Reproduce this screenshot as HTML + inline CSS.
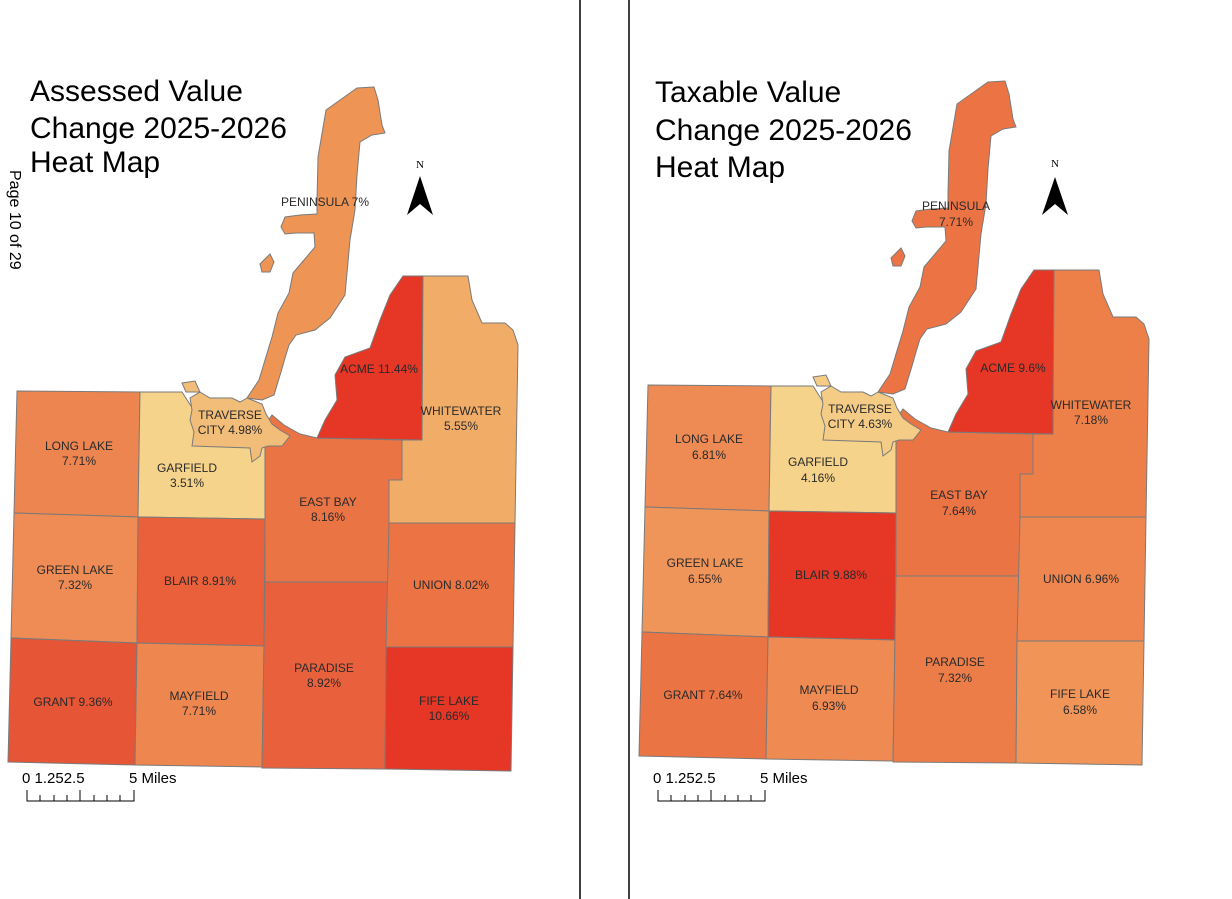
<!DOCTYPE html>
<html><head><meta charset="utf-8"><style>
html,body{margin:0;padding:0;background:#fff;}
svg{display:block;font-family:"Liberation Sans",sans-serif;}
.l{font-size:12px;fill:#2a2a2a;text-anchor:middle;}
.t{font-size:30px;fill:#000;}
</style></head><body>
<svg width="1232" height="899" viewBox="0 0 1232 899" xmlns="http://www.w3.org/2000/svg">
<rect width="1232" height="899" fill="#fff"/>
<line x1="580" y1="0" x2="580" y2="899" stroke="#000" stroke-width="1.5"/>
<line x1="629" y1="0" x2="629" y2="899" stroke="#000" stroke-width="1.5"/>
<text transform="translate(10,170) rotate(90)" font-size="16" fill="#000">Page 10 of 29</text>

<!-- LEFT MAP -->
<g stroke="#7a7a7a" stroke-width="1">
<polygon fill="#ee9555" points="357,88 374,87 378,100 382,125 385,133 372,135 360,142 357,175 355,210 350,240 348,262 345,295 330,318 315,330 296,335 289,345 285,358 281,372 274,395 262,400 247,398 259,380 265,360 272,337 278,313 289,293 293,273 304,260 315,247 314,233 296,233 285,234 281,227 285,217 300,215 317,214 317,200 318,157 326,110"/>
<polygon fill="#ee9555" points="260,264 270,254 274,262 270,272 262,272"/>
<polygon fill="#ec8550" points="17,391 140,392 138,517 14,513"/>
<polygon fill="#f6d38b" points="140,392 182,392 200,420 265,425 265,519 138,517"/>
<polygon fill="#ef8c55" points="14,513 138,517 137,643 11,638"/>
<polygon fill="#e9603a" points="138,517 265,519 264,646 137,643"/>
<polygon fill="#e65535" points="11,638 137,643 135,765 8,762"/>
<polygon fill="#ee8650" points="137,643 264,646 262,767 135,765"/>
<polygon fill="#eb7445" points="265,425 272,415 284,425 300,434 317,438 402,440 402,480 389,480 389,582 265,582"/>
<polygon fill="#e9603c" points="265,582 389,582 386,647 385,769 262,768"/>
<polygon fill="#ec7444" points="389,523 515,523 513,647 386,647"/>
<polygon fill="#e53626" points="386,647 513,647 511,771 385,769"/>
<polygon fill="#e53626" points="403,276 423,276 422,440 317,438 325,420 337,400 335,375 345,357 370,348 380,320 390,295"/>
<polygon fill="#f1ad68" points="423,276 468,276 472,300 482,323 505,323 513,330 518,345 515,523 389,523 389,480 402,480 402,440 422,440"/>
<polygon fill="#f2bd78" points="182,383 195,381 200,392 190,398 192,410 190,420 194,432 192,446 250,448 252,462 260,456 262,448 268,446 282,446 290,436 280,430 272,424 266,414 262,404 252,400 247,398 240,402 232,398 210,398 200,392 186,392"/>
</g>
<text class="t" x="30" y="101">Assessed Value</text>
<text class="t" x="30" y="138">Change 2025-2026</text>
<text class="t" x="30" y="172">Heat Map</text>
<text x="420" y="168" font-size="11" font-family="Liberation Serif,serif" text-anchor="middle">N</text>
<polygon points="420,176 407,215 420,204 433,215" fill="#000"/>
<text class="l" x="325" y="206">PENINSULA 7%</text>
<text class="l" x="379" y="373">ACME 11.44%</text>
<text class="l" x="230" y="419">TRAVERSE</text><text class="l" x="230" y="434">CITY 4.98%</text>
<text class="l" x="461" y="415">WHITEWATER</text><text class="l" x="461" y="430">5.55%</text>
<text class="l" x="79" y="450">LONG LAKE</text><text class="l" x="79" y="465">7.71%</text>
<text class="l" x="187" y="472">GARFIELD</text><text class="l" x="187" y="487">3.51%</text>
<text class="l" x="328" y="506">EAST BAY</text><text class="l" x="328" y="521">8.16%</text>
<text class="l" x="75" y="574">GREEN LAKE</text><text class="l" x="75" y="589">7.32%</text>
<text class="l" x="200" y="585">BLAIR 8.91%</text>
<text class="l" x="451" y="589">UNION 8.02%</text>
<text class="l" x="324" y="672">PARADISE</text><text class="l" x="324" y="687">8.92%</text>
<text class="l" x="73" y="706">GRANT 9.36%</text>
<text class="l" x="199" y="700">MAYFIELD</text><text class="l" x="199" y="715">7.71%</text>
<text class="l" x="449" y="705">FIFE LAKE</text><text class="l" x="449" y="720">10.66%</text>
<text x="22" y="783" font-size="15">0  1.252.5</text><text x="129" y="783" font-size="15">5 Miles</text>
<path d="M27,790V801H134V790M40,795V801M54,795V801M67,795V801M80,790V801M94,795V801M107,795V801M120,795V801" stroke="#000" fill="none" stroke-width="1"/>

<!-- RIGHT MAP -->
<g transform="translate(631,-6)" stroke="#7a7a7a" stroke-width="1">
<polygon fill="#ec7444" points="357,88 374,87 378,100 382,125 385,133 372,135 360,142 357,175 355,210 350,240 348,262 345,295 330,318 315,330 296,335 289,345 285,358 281,372 274,395 262,400 247,398 259,380 265,360 272,337 278,313 289,293 293,273 304,260 315,247 314,233 296,233 285,234 281,227 285,217 300,215 317,214 317,200 318,157 326,110"/>
<polygon fill="#ec7444" points="260,264 270,254 274,262 270,272 262,272"/>
<polygon fill="#ee8a53" points="17,391 140,392 138,517 14,513"/>
<polygon fill="#f6d38b" points="140,392 182,392 200,420 265,425 265,519 138,517"/>
<polygon fill="#f0955a" points="14,513 138,517 137,643 11,638"/>
<polygon fill="#e53626" points="138,517 265,519 264,646 137,643"/>
<polygon fill="#eb7444" points="11,638 137,643 135,765 8,762"/>
<polygon fill="#ef8a52" points="137,643 264,646 262,767 135,765"/>
<polygon fill="#eb7444" points="265,425 272,415 284,425 300,434 317,438 402,440 402,480 389,480 389,582 265,582"/>
<polygon fill="#ed7d48" points="265,582 389,582 386,647 385,769 262,768"/>
<polygon fill="#ef8650" points="389,523 515,523 513,647 386,647"/>
<polygon fill="#f09458" points="386,647 513,647 511,771 385,769"/>
<polygon fill="#e53626" points="403,276 423,276 422,440 317,438 325,420 337,400 335,375 345,357 370,348 380,320 390,295"/>
<polygon fill="#ed8048" points="423,276 468,276 472,300 482,323 505,323 513,330 518,345 515,523 389,523 389,480 402,480 402,440 422,440"/>
<polygon fill="#f5cc86" points="182,383 195,381 200,392 190,398 192,410 190,420 194,432 192,446 250,448 252,462 260,456 262,448 268,446 282,446 290,436 280,430 272,424 266,414 262,404 252,400 247,398 240,402 232,398 210,398 200,392 186,392"/>
</g>
<text class="t" x="655" y="102">Taxable Value</text>
<text class="t" x="655" y="140">Change 2025-2026</text>
<text class="t" x="655" y="177">Heat Map</text>
<text x="1055" y="167" font-size="11" font-family="Liberation Serif,serif" text-anchor="middle">N</text>
<polygon points="1055,177 1042,215 1055,204 1068,215" fill="#000"/>
<text class="l" x="956" y="210">PENINSULA</text><text class="l" x="956" y="226">7.71%</text>
<text class="l" x="1013" y="372">ACME 9.6%</text>
<text class="l" x="860" y="413">TRAVERSE</text><text class="l" x="860" y="428">CITY 4.63%</text>
<text class="l" x="1091" y="409">WHITEWATER</text><text class="l" x="1091" y="424">7.18%</text>
<text class="l" x="709" y="443">LONG LAKE</text><text class="l" x="709" y="459">6.81%</text>
<text class="l" x="818" y="466">GARFIELD</text><text class="l" x="818" y="482">4.16%</text>
<text class="l" x="959" y="499">EAST BAY</text><text class="l" x="959" y="515">7.64%</text>
<text class="l" x="705" y="567">GREEN LAKE</text><text class="l" x="705" y="583">6.55%</text>
<text class="l" x="831" y="579">BLAIR 9.88%</text>
<text class="l" x="1081" y="583">UNION 6.96%</text>
<text class="l" x="955" y="666">PARADISE</text><text class="l" x="955" y="682">7.32%</text>
<text class="l" x="703" y="699">GRANT 7.64%</text>
<text class="l" x="829" y="694">MAYFIELD</text><text class="l" x="829" y="710">6.93%</text>
<text class="l" x="1080" y="698">FIFE LAKE</text><text class="l" x="1080" y="714">6.58%</text>
<text x="653" y="783" font-size="15">0  1.252.5</text><text x="760" y="783" font-size="15">5 Miles</text>
<path d="M658,790V801H765V790M671,795V801M685,795V801M698,795V801M711,790V801M725,795V801M738,795V801M751,795V801" stroke="#000" fill="none" stroke-width="1"/>
</svg>
</body></html>
